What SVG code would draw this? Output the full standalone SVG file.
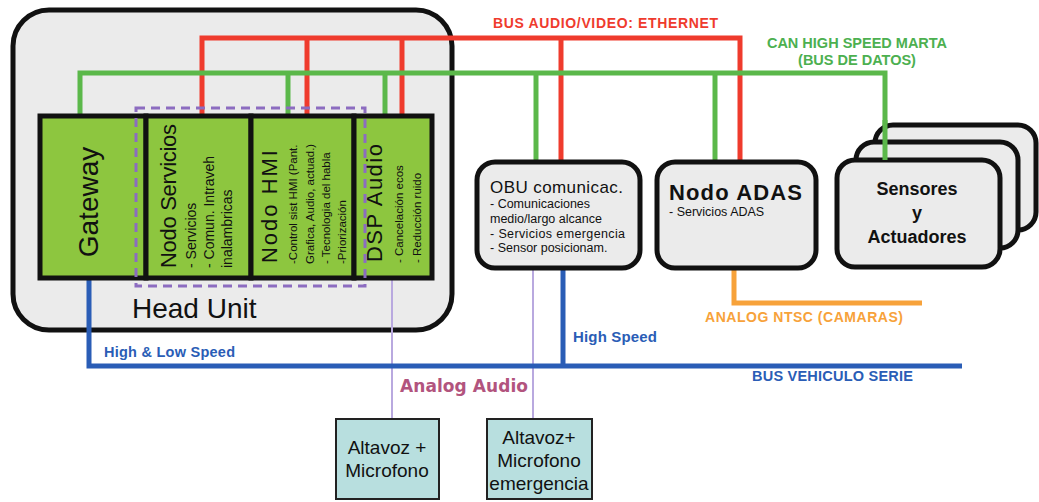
<svg xmlns="http://www.w3.org/2000/svg" width="1039" height="502" viewBox="0 0 1039 502">
<style>
text{font-family:"Liberation Sans",Arial,sans-serif;fill:#111}
.box{fill:#ebebeb;stroke:#111;stroke-width:5}
.gbox{fill:#8dc63f;stroke:#111;stroke-width:5}
.cbox{fill:#b8dfdf;stroke:#222;stroke-width:2}
.red{stroke:#ef3b2d;stroke-width:5;fill:none}
.grn{stroke:#5bb84a;stroke-width:5;fill:none}
.blu{stroke:#2a5db6;stroke-width:5;fill:none}
.org{stroke:#f7a23a;stroke-width:5;fill:none}
.lav{stroke:#b9a9df;stroke-width:2;fill:none}
.lbl{font-weight:bold}
.sub{font-size:14px}
.sm{font-size:11.5px}
</style>
<rect width="1039" height="502" fill="#ffffff"/>
<g id="head-unit">
  <rect class="box" x="13" y="10" width="439" height="320" rx="36"/>
</g>
<g id="connectors">
  <polyline class="red" points="202,116 202,38 740,38 740,162"/>
  <line class="red" x1="307" y1="38" x2="307" y2="116"/>
  <line class="red" x1="402" y1="38" x2="402" y2="116"/>
  <line class="red" x1="561" y1="38" x2="561" y2="162"/>
  <polyline class="grn" points="80,116 80,73 885,73 885,160"/>
  <line class="grn" x1="288" y1="73" x2="288" y2="116"/>
  <line class="grn" x1="385" y1="73" x2="385" y2="116"/>
  <line class="grn" x1="536" y1="73" x2="536" y2="162"/>
  <line class="grn" x1="715" y1="73" x2="715" y2="162"/>
  <polyline class="org" points="734,268 734,303 922,303"/>
  <line class="lav" x1="392" y1="278" x2="392" y2="419"/>
  <line class="lav" x1="533" y1="268" x2="533" y2="419"/>
  <polyline class="blu" points="89,278 89,366 962,366"/>
  <line class="blu" x1="563" y1="268" x2="563" y2="366"/>
  <text class="lbl" x="493" y="28" font-size="14" style="fill:#ef3b2d" textLength="225">BUS AUDIO/VIDEO: ETHERNET</text>
  <text class="lbl" x="857" y="48" font-size="14.5" text-anchor="middle" style="fill:#4cb050">CAN HIGH SPEED MARTA</text>
  <text class="lbl" x="857" y="65" font-size="14.5" text-anchor="middle" style="fill:#4cb050">(BUS DE DATOS)</text>
  <text class="lbl" x="705" y="322" font-size="14" style="fill:#f7a23a" textLength="198">ANALOG NTSC (CAMARAS)</text>
  <text class="lbl" x="104" y="357" font-size="14.5" style="fill:#2a5db6" textLength="131">High &amp; Low Speed</text>
  <text class="lbl" x="573" y="342" font-size="15" style="fill:#2a5db6" textLength="84">High Speed</text>
  <text class="lbl" x="752" y="381" font-size="14.5" style="fill:#2a5db6" textLength="161">BUS VEHICULO SERIE</text>
  <text x="400" y="392" font-size="17" font-weight="bold" style="fill:#b2547e;font-family:'DejaVu Sans',sans-serif" textLength="128">Analog Audio</text>
</g>
<g id="gateway">
  <rect class="gbox" x="40" y="116" width="106" height="162"/>
  <text transform="translate(98,202) rotate(-90)" font-size="28" text-anchor="middle">Gateway</text>
</g>
<g id="nodo-servicios">
  <rect class="gbox" x="146" y="116" width="105" height="162"/>
  <text transform="translate(176,268) rotate(-90)" font-size="22" textLength="144">Nodo Servicios</text>
  <text transform="translate(196,268) rotate(-90)" class="sub">- Servicios</text>
  <text transform="translate(214,268) rotate(-90)" class="sub">- Comun. Intraveh</text>
  <text transform="translate(232,268) rotate(-90)" class="sub">inalambricas</text>
</g>
<g id="nodo-hmi">
  <rect class="gbox" x="251" y="116" width="103" height="162"/>
  <text transform="translate(277,263) rotate(-90)" font-size="22" textLength="113">Nodo HMI</text>
  <text transform="translate(297,264) rotate(-90)" class="sm">-Control sist HMI (Pant.</text>
  <text transform="translate(314,264) rotate(-90)" class="sm">Grafica, Audio, actuad.)</text>
  <text transform="translate(330,264) rotate(-90)" class="sm">- Tecnologia del habla</text>
  <text transform="translate(346,264) rotate(-90)" class="sm">-Priorización</text>
</g>
<g id="dsp-audio">
  <rect class="gbox" x="354" y="116" width="78" height="162"/>
  <text transform="translate(382,262) rotate(-90)" font-size="22" textLength="118">DSP Audio</text>
  <text transform="translate(403,263) rotate(-90)" class="sm">- Cancelación ecos</text>
  <text transform="translate(421,263) rotate(-90)" class="sm">- Reducción ruido</text>
</g>
<g id="head-unit-group">
  <rect x="136" y="108" width="229" height="178" fill="none" stroke="#8c6cc0" stroke-width="3" stroke-dasharray="9,6"/>
  <text x="132" y="318" font-size="28">Head Unit</text>
</g>
<g id="obu">
  <rect class="box" x="477" y="162" width="163" height="106" rx="18"/>
  <text x="490" y="193" font-size="17" textLength="133">OBU comunicac.</text>
  <text x="490" y="208" font-size="12.5">- Comunicaciones</text>
  <text x="490" y="223" font-size="12.5">medio/largo alcance</text>
  <text x="490" y="238" font-size="12.5" textLength="135">- Servicios emergencia</text>
  <text x="490" y="252" font-size="12.5">- Sensor posicionam.</text>
</g>
<g id="nodo-adas">
  <rect class="box" x="657" y="162" width="159" height="106" rx="18"/>
  <text x="669" y="200" font-size="22" font-weight="bold" textLength="133">Nodo ADAS</text>
  <text x="669" y="216" font-size="12.5">- Servicios ADAS</text>
</g>
<g id="sensores">
  <rect class="box" x="875" y="125" width="161" height="105" rx="18"/>
  <rect class="box" x="856" y="142" width="162" height="106" rx="18"/>
  <rect class="box" x="837" y="160" width="163" height="107" rx="18"/>
  <line class="grn" x1="885" y1="120" x2="885" y2="160"/>
  <text x="917" y="195" font-size="18" font-weight="bold" text-anchor="middle">Sensores</text>
  <text x="917" y="219" font-size="18" font-weight="bold" text-anchor="middle">y</text>
  <text x="917" y="243" font-size="18" font-weight="bold" text-anchor="middle">Actuadores</text>
</g>
<g id="altavoz-microfono">
  <rect class="cbox" x="336" y="419" width="103" height="80"/>
  <text x="387" y="454" font-size="19" text-anchor="middle">Altavoz +</text>
  <text x="387" y="477" font-size="19" text-anchor="middle">Microfono</text>
</g>
<g id="altavoz-microfono-emergencia">
  <rect class="cbox" x="487" y="419" width="105" height="80"/>
  <text x="539" y="444" font-size="19" text-anchor="middle">Altavoz+</text>
  <text x="539" y="467" font-size="19" text-anchor="middle">Microfono</text>
  <text x="539" y="490" font-size="19" text-anchor="middle">emergencia</text>
</g>
</svg>
